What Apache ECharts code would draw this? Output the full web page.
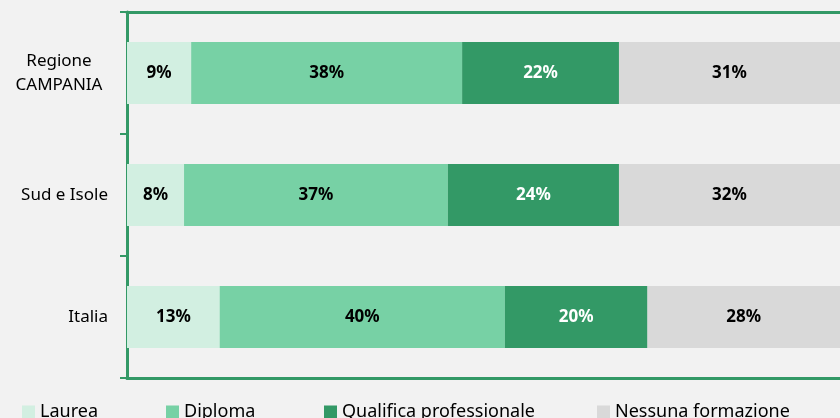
<!DOCTYPE html>
<html>
<head>
<meta charset="utf-8">
<script src="https://cdn.jsdelivr.net/npm/echarts@6/dist/echarts.min.js"></script>
<style>
  html, body { margin: 0; padding: 0; background: #f2f2f2; }
  #chart { width: 840px; height: 418px; }
</style>
</head>
<body>
<div id="chart"></div>
<script>
// dati (percentuali)
const categories = ['Regione\nCAMPANIA', 'Sud e Isole', 'Italia']
const laurea = [9, 8, 13]
const diploma = [38, 37, 40]
const qualifica = [22, 24, 20]
const nessuna = [31, 32, 28]

const names = ['Laurea', 'Diploma', 'Qualifica professionale', 'Nessuna formazione']
const colors = ['#d2efe1', '#77d1a5', '#339966', '#d9d9d9']
const labelColors = ['#000', '#000', '#fff', '#000']
const values = [laurea, diploma, qualifica, nessuna]
const legendLeft = [22, 166, 324, 597]

const font = 'Noto Sans'
const green = '#339966'
const chart = echarts.init(document.getElementById('chart'))

let series = names.map((name, i) => ({
  name: name,
  type: 'bar',
  stack: 'tot',
  barWidth: '51%',
  data: values[i],
  itemStyle: { color: colors[i] },
  label: {
    show: true,
    position: 'inside',
    formatter: '{c}%',
    color: labelColors[i],
    fontFamily: font,
    fontWeight: 'bold',
    fontSize: 17
  }
}))

let legends = names.map((name, i) => ({
  data: [name],
  left: legendLeft[i],
  top: 403,
  padding: 0,
  itemWidth: 13,
  itemHeight: 13,
  itemGap: 5,
  icon: 'rect',
  textStyle: { fontFamily: font, fontSize: 18, color: '#000' }
}))

// asse orizzontale: solo linea (sopra e sotto), il grafico continua oltre il bordo destro
let hAxis = pos => ({
  type: 'value',
  position: pos,
  min: 0,
  max: 100,
  axisLine: { show: true, onZero: false, lineStyle: { color: green, width: 3 } },
  axisTick: { show: false },
  axisLabel: { show: false },
  splitLine: { show: false }
})

let option = {
  backgroundColor: '#f2f2f2',
  animation: false,
  legend: legends,
  grid: {
    left: 127,
    top: 12,
    bottom: 40,
    width: 716,
    containLabel: false
  },
  xAxis: [hAxis('bottom'), hAxis('top')],
  yAxis: {
    type: 'category',
    inverse: true,
    data: categories,
    axisLine: { show: true, lineStyle: { color: green, width: 3 } },
    axisTick: { show: true, length: 7, lineStyle: { color: green, width: 2 } },
    axisLabel: {
      margin: 19,
      color: '#000',
      fontFamily: font,
      fontSize: 17,
      lineHeight: 24,
      formatter: function (v) {
        if (v.indexOf('\n') < 0) return v
        return v.split('\n').map(s => '{c|' + s + '}').join('\n')
      },
      rich: {
        c: { width: 98, align: 'center', fontFamily: font, fontSize: 17, color: '#000', lineHeight: 24 }
      }
    }
  },
  series: series
}

chart.setOption(option)
</script>
</body>
</html>
